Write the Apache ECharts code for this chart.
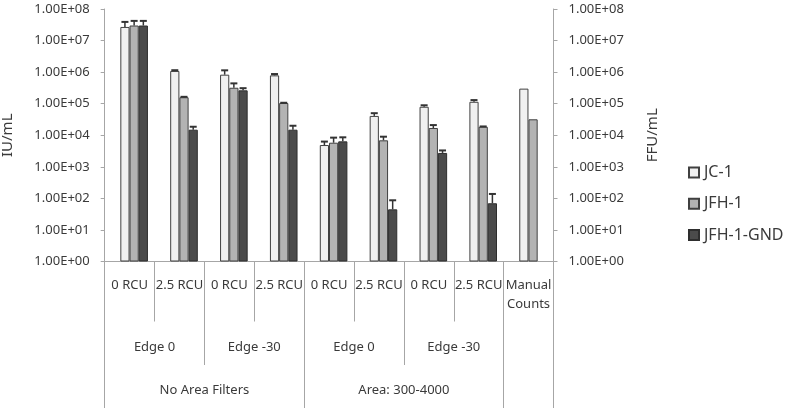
<!DOCTYPE html>
<html><head><meta charset="utf-8">
<script src="https://cdn.jsdelivr.net/npm/echarts@6/dist/echarts.min.js"></script>
<style>html,body{margin:0;padding:0;background:#fff}#c{width:785px;height:408px}</style>
</head><body><div id="c"></div>
<script>
// ---- data ----
const categories = ['0 RCU','2.5 RCU','0 RCU','2.5 RCU','0 RCU','2.5 RCU','0 RCU','2.5 RCU','Manual\nCounts'];
const edgeLabels = ['Edge 0','Edge -30','Edge 0','Edge -30'];
const edgeSpans = [2,2,2,2];
const areaLabels = ['No Area Filters','Area: 300-4000'];
const areaSpans = [4,4];
const seriesNames = ['JC-1','JFH-1','JFH-1-GND'];
const jc1    = [2.7e7, 1.09e6, 8.3e5, 7.9e5, 4.9e3, 4.1e4, 8.0e4, 1.15e5, 3.0e5];
const jfh1   = [3.0e7, 1.6e5, 3.2e5, 1.05e5, 5.8e3, 6.9e3, 1.7e4, 1.86e4, 3.2e4];
const jfhGnd = [3.0e7, 1.5e4, 2.65e5, 1.5e4, 6.4e3, 45, 2.75e3, 70, null];
// upper error-bar ends
const jc1Err    = [3.9e7, 1.15e6, 1.14e6, 8.7e5, 6.3e3, 5.0e4, 8.9e4, 1.3e5, null];
const jfh1Err   = [4.2e7, 1.65e5, 4.4e5, 1.07e5, 8.4e3, 9.0e3, 2.1e4, 1.9e4, null];
const jfhGndErr = [4.2e7, 1.86e4, 3.1e5, 2.0e4, 8.6e3, 87, 3.3e3, 138, null];
const yTickLabels = ['1.00E+00','1.00E+01','1.00E+02','1.00E+03','1.00E+04','1.00E+05','1.00E+06','1.00E+07','1.00E+08'];

// ---- build ----
const nB = categories.length + 1;
function boundaryArr(labels, spans) {
  const arr = new Array(nB).fill('');
  let p = 0;
  labels.forEach((l, i) => { arr[p + spans[i] / 2] = l; p += spans[i]; });
  return arr;
}
const edgeBoundary = boundaryArr(edgeLabels, edgeSpans);
const areaBoundary = boundaryArr(areaLabels, areaSpans);
const longIdx = [0];
areaSpans.reduce((acc, s) => { longIdx.push(acc + s); return acc + s; }, 0);

const TXT = '#3a3a3a', AX = '#a6a6a6', FONT = 'Noto Sans';
const barW = 9.2;
const G = { top: 9, height: 252.5, left: 104.7, width: 448.8 };
const SHIFT = 4.5;

const valuesArr = [jc1, jfh1, jfhGnd];
const errArr = [jc1Err, jfh1Err, jfhGndErr];
const fills = ['#f0f0f0', '#b3b3b3', '#4b4b4b'];
const borders = ['#404040', '#404040', '#2e2e2e'];

const errData = [];
errArr.forEach((arr, s) => arr.forEach((t, i) => {
  if (t != null && valuesArr[s][i] != null) errData.push([i, valuesArr[s][i], t, s]);
}));

const yFmt = v => yTickLabels[Math.round(Math.log10(v))] || '';

const option = {
  animation: false,
  textStyle: { fontFamily: FONT },
  grid: [
    { left: G.left, top: G.top, width: G.width, height: G.height, outerBoundsMode: 'none', containLabel: false },
    { left: G.left + SHIFT, top: G.top, width: G.width, height: G.height, outerBoundsMode: 'none', containLabel: false }
  ],
  legend: {
    data: seriesNames, orient: 'vertical', left: 688, top: 162.5, padding: 0,
    itemWidth: 10, itemHeight: 10, itemGap: 11.3, icon: 'rect',
    textStyle: { fontSize: 16, color: TXT, lineHeight: 20, fontFamily: FONT }
  },
  xAxis: [
    { type: 'category', gridIndex: 0, position: 'bottom', data: categories,
      axisLine: { show: true, lineStyle: { color: AX, width: 1 } },
      axisTick: { show: true, interval: i => longIdx.includes(i), length: 150, lineStyle: { color: AX } },
      axisLabel: { interval: 0, margin: 14.7, fontSize: 13, lineHeight: 19, color: TXT, fontFamily: FONT } },
    { type: 'category', gridIndex: 0, position: 'bottom', boundaryGap: false, data: edgeBoundary,
      axisLine: { show: false },
      axisTick: { show: true, interval: i => edgeBoundary[i] !== '', length: 60, lineStyle: { color: AX } },
      axisLabel: { interval: 0, margin: 76.7, fontSize: 13, lineHeight: 19, color: TXT, fontFamily: FONT } },
    { type: 'category', gridIndex: 0, position: 'bottom', boundaryGap: false, data: areaBoundary,
      axisLine: { show: false },
      axisTick: { show: true, interval: i => areaBoundary[i] !== '', length: 103.5, lineStyle: { color: AX } },
      axisLabel: { interval: 0, margin: 119.5, fontSize: 13, lineHeight: 19, color: TXT, fontFamily: FONT } },
    { type: 'category', gridIndex: 1, data: categories, show: false }
  ],
  yAxis: [
    { type: 'log', gridIndex: 0, position: 'left', min: 1, max: 1e8, logBase: 10, splitNumber: 8,
      name: 'IU/mL', nameLocation: 'middle', nameGap: 89,
      nameTextStyle: { fontSize: 15, color: TXT, fontFamily: FONT },
      axisLine: { show: true, lineStyle: { color: AX } },
      axisTick: { show: true, length: 4, lineStyle: { color: AX } },
      splitLine: { show: false },
      axisLabel: { formatter: yFmt, fontSize: 13, color: TXT, margin: 15, fontFamily: FONT } },
    { type: 'log', gridIndex: 0, position: 'right', min: 1, max: 1e8, logBase: 10, splitNumber: 8,
      name: 'FFU/mL', nameLocation: 'middle', nameGap: 92,
      nameTextStyle: { fontSize: 15, color: TXT, fontFamily: FONT },
      axisLine: { show: true, lineStyle: { color: AX } },
      axisTick: { show: true, length: 4, lineStyle: { color: AX } },
      splitLine: { show: false },
      axisLabel: { formatter: yFmt, fontSize: 13, color: TXT, margin: 15, fontFamily: FONT } },
    { type: 'log', gridIndex: 1, min: 1, max: 1e8, logBase: 10, show: false, splitLine: { show: false } }
  ],
  series: seriesNames.map((n, s) => ({
    name: n, type: 'bar', xAxisIndex: 3, yAxisIndex: 2, data: valuesArr[s],
    barWidth: barW, barGap: '0%',
    itemStyle: { color: fills[s], borderColor: borders[s], borderWidth: 1 }
  })).concat([{
    type: 'custom', xAxisIndex: 3, yAxisIndex: 2, z: 5, data: errData,
    encode: { x: 0, y: 1 },
    renderItem: (params, api) => {
      const cat = api.value(0), v = api.value(1), top = api.value(2), s = api.value(3);
      const b = api.coord([cat, v]);
      const t = api.coord([cat, top]);
      const x = b[0] + (s - 1) * barW;
      return { type: 'group', children: [
        { type: 'line', shape: { x1: x, y1: b[1], x2: x, y2: t[1] }, style: { stroke: '#333', lineWidth: 1.5 } },
        { type: 'line', shape: { x1: x - 3.5, y1: t[1], x2: x + 3.5, y2: t[1] }, style: { stroke: '#333', lineWidth: 2 } }
      ]};
    }
  }])
};
const chart = echarts.init(document.getElementById('c'), null, { renderer: 'canvas' });
chart.setOption(option);
</script>
</body></html>
